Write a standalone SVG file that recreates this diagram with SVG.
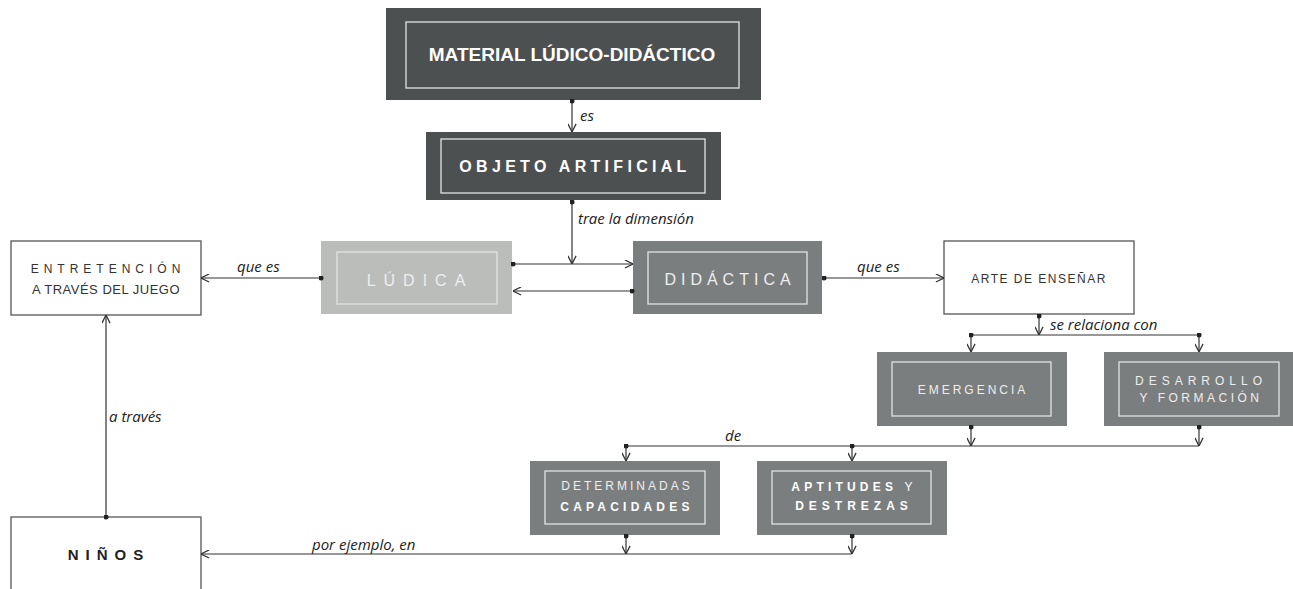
<svg xmlns="http://www.w3.org/2000/svg" width="1293" height="589" viewBox="0 0 1293 589">
<style>
.dark{fill:#4d5050}
.mid{fill:#7b7e7e}
.light{fill:#bbbdbb}
.inner{fill:none;stroke:#e2e2e2;stroke-width:1.3}
.white{fill:#ffffff;stroke:#555;stroke-width:1.3}
.t{font-family:"Liberation Sans",Arial,sans-serif;text-anchor:middle}
.tw{fill:#ffffff}
.tl{fill:#eeeeee}
.td{fill:#333333}
.lbl{font-family:"Open Sans","DejaVu Sans",sans-serif;font-style:italic;font-size:15px;fill:#222}
.c{fill:none;stroke:#333;stroke-width:1.2}
</style>
<defs>
<marker id="arr" viewBox="0 0 10 10" refX="9.5" refY="5" markerWidth="9" markerHeight="9" markerUnits="userSpaceOnUse" orient="auto">
<path d="M0.5,0.5 L9.5,5 L0.5,9.5" fill="none" stroke="#333" stroke-width="1.4"/>
</marker>
<marker id="dot" viewBox="0 0 6 6" refX="3" refY="3" markerWidth="5" markerHeight="5" markerUnits="userSpaceOnUse">
<circle cx="3" cy="3" r="3" fill="#222"/>
</marker>
</defs>

<g id="material">
<rect class="dark" x="386" y="8" width="375" height="92"/>
<rect class="inner" x="406" y="22" width="333" height="66"/>
<text class="t tw" x="572" y="61" font-size="19" font-weight="bold">MATERIAL LÚDICO-DIDÁCTICO</text>
</g>

<g id="objeto">
<rect class="dark" x="426" y="132" width="295" height="68"/>
<rect class="inner" x="441" y="139" width="264" height="54"/>
<text class="t tw" x="575" y="172" font-size="16" font-weight="bold" letter-spacing="4.3">OBJETO ARTIFICIAL</text>
</g>

<g id="ludica">
<rect class="light" x="321" y="241" width="191" height="73"/>
<rect class="inner" x="337" y="252" width="160" height="52"/>
<text class="t tl" x="420" y="286" font-size="16" letter-spacing="8">LÚDICA</text>
</g>

<g id="didactica">
<rect class="mid" x="633" y="241" width="189" height="73"/>
<rect class="inner" x="648" y="252" width="159" height="52"/>
<text class="t tl" x="730" y="285" font-size="16" letter-spacing="5">DIDÁCTICA</text>
</g>

<g id="entretencion">
<rect class="white" x="11" y="241" width="190" height="74"/>
<text class="t td" x="108" y="273" font-size="12" letter-spacing="5">ENTRETENCIÓN</text>
<text class="t td" x="106" y="294" font-size="13" letter-spacing="0.5">A TRAVÉS DEL JUEGO</text>
</g>

<g id="arte">
<rect class="white" x="944" y="241" width="190" height="73"/>
<text class="t td" x="1039" y="283" font-size="12" letter-spacing="1.5">ARTE DE ENSEÑAR</text>
</g>

<g id="emergencia">
<rect class="mid" x="877" y="352" width="190" height="74"/>
<rect class="inner" x="892" y="362" width="159" height="54"/>
<text class="t tl" x="973" y="394" font-size="12" letter-spacing="3">EMERGENCIA</text>
</g>

<g id="desarrollo">
<rect class="mid" x="1104" y="352" width="189" height="74"/>
<rect class="inner" x="1119" y="362" width="160" height="54"/>
<text class="t tl" x="1201" y="385" font-size="12" letter-spacing="5">DESARROLLO</text>
<text class="t tl" x="1201" y="402" font-size="12" letter-spacing="3.5">Y FORMACIÓN</text>
</g>

<g id="determinadas">
<rect class="mid" x="530" y="461" width="190" height="74"/>
<rect class="inner" x="545" y="471" width="160" height="53"/>
<text class="t tl" x="627" y="490" font-size="12" letter-spacing="3">DETERMINADAS</text>
<text class="t tw" x="627" y="511" font-size="12" font-weight="bold" letter-spacing="4.2">CAPACIDADES</text>
</g>

<g id="aptitudes">
<rect class="mid" x="757" y="461" width="190" height="74"/>
<rect class="inner" x="772" y="471" width="159" height="53"/>
<text class="t tw" x="854" y="491" font-size="12" letter-spacing="4.2"><tspan font-weight="bold">APTITUDES</tspan> Y</text>
<text class="t tw" x="854" y="510" font-size="12" font-weight="bold" letter-spacing="5">DESTREZAS</text>
</g>

<g id="ninos">
<rect class="white" x="11" y="517" width="190" height="80"/>
<text class="t" x="109" y="560" font-size="15" font-weight="bold" letter-spacing="7" fill="#222">NIÑOS</text>
</g>

<g id="connectors">
<path class="c" d="M572,101 V132" marker-start="url(#dot)" marker-end="url(#arr)"/>
<path class="c" d="M572,202 V264" marker-start="url(#dot)" marker-end="url(#arr)"/>
<path class="c" d="M321,278 H201" marker-start="url(#dot)" marker-end="url(#arr)"/>
<path class="c" d="M513,264 H633" marker-start="url(#dot)" marker-end="url(#arr)"/>
<path class="c" d="M632,291 H513" marker-start="url(#dot)" marker-end="url(#arr)"/>
<path class="c" d="M824,278 H944" marker-start="url(#dot)" marker-end="url(#arr)"/>
<path class="c" d="M1039,316 V335" marker-start="url(#dot)" marker-end="url(#arr)"/>
<path class="c" d="M971,335 H1199"/>
<path class="c" d="M971,335 V352" marker-start="url(#dot)" marker-end="url(#arr)"/>
<path class="c" d="M1199,335 V352" marker-start="url(#dot)" marker-end="url(#arr)"/>
<path class="c" d="M971,427 V446" marker-start="url(#dot)" marker-end="url(#arr)"/>
<path class="c" d="M1199,427 V446" marker-start="url(#dot)" marker-end="url(#arr)"/>
<path class="c" d="M626,446 H1199"/>
<path class="c" d="M626,446 V461" marker-start="url(#dot)" marker-end="url(#arr)"/>
<path class="c" d="M852,446 V461" marker-start="url(#dot)" marker-end="url(#arr)"/>
<path class="c" d="M626,536 V554" marker-start="url(#dot)" marker-end="url(#arr)"/>
<path class="c" d="M852,536 V554" marker-start="url(#dot)" marker-end="url(#arr)"/>
<path class="c" d="M852,554 H201" marker-end="url(#arr)"/>
<path class="c" d="M106,517 V315" marker-start="url(#dot)" marker-end="url(#arr)"/>
<text class="lbl" x="580" y="121">es</text>
<text class="lbl" x="578" y="224">trae la dimensión</text>
<text class="lbl" x="237" y="272">que es</text>
<text class="lbl" x="857" y="272">que es</text>
<text class="lbl" x="1050" y="330">se relaciona con</text>
<text class="lbl" x="725" y="441">de</text>
<text class="lbl" x="109" y="422">a través</text>
<text class="lbl" x="312" y="550">por ejemplo, en</text>
</g>
</svg>
